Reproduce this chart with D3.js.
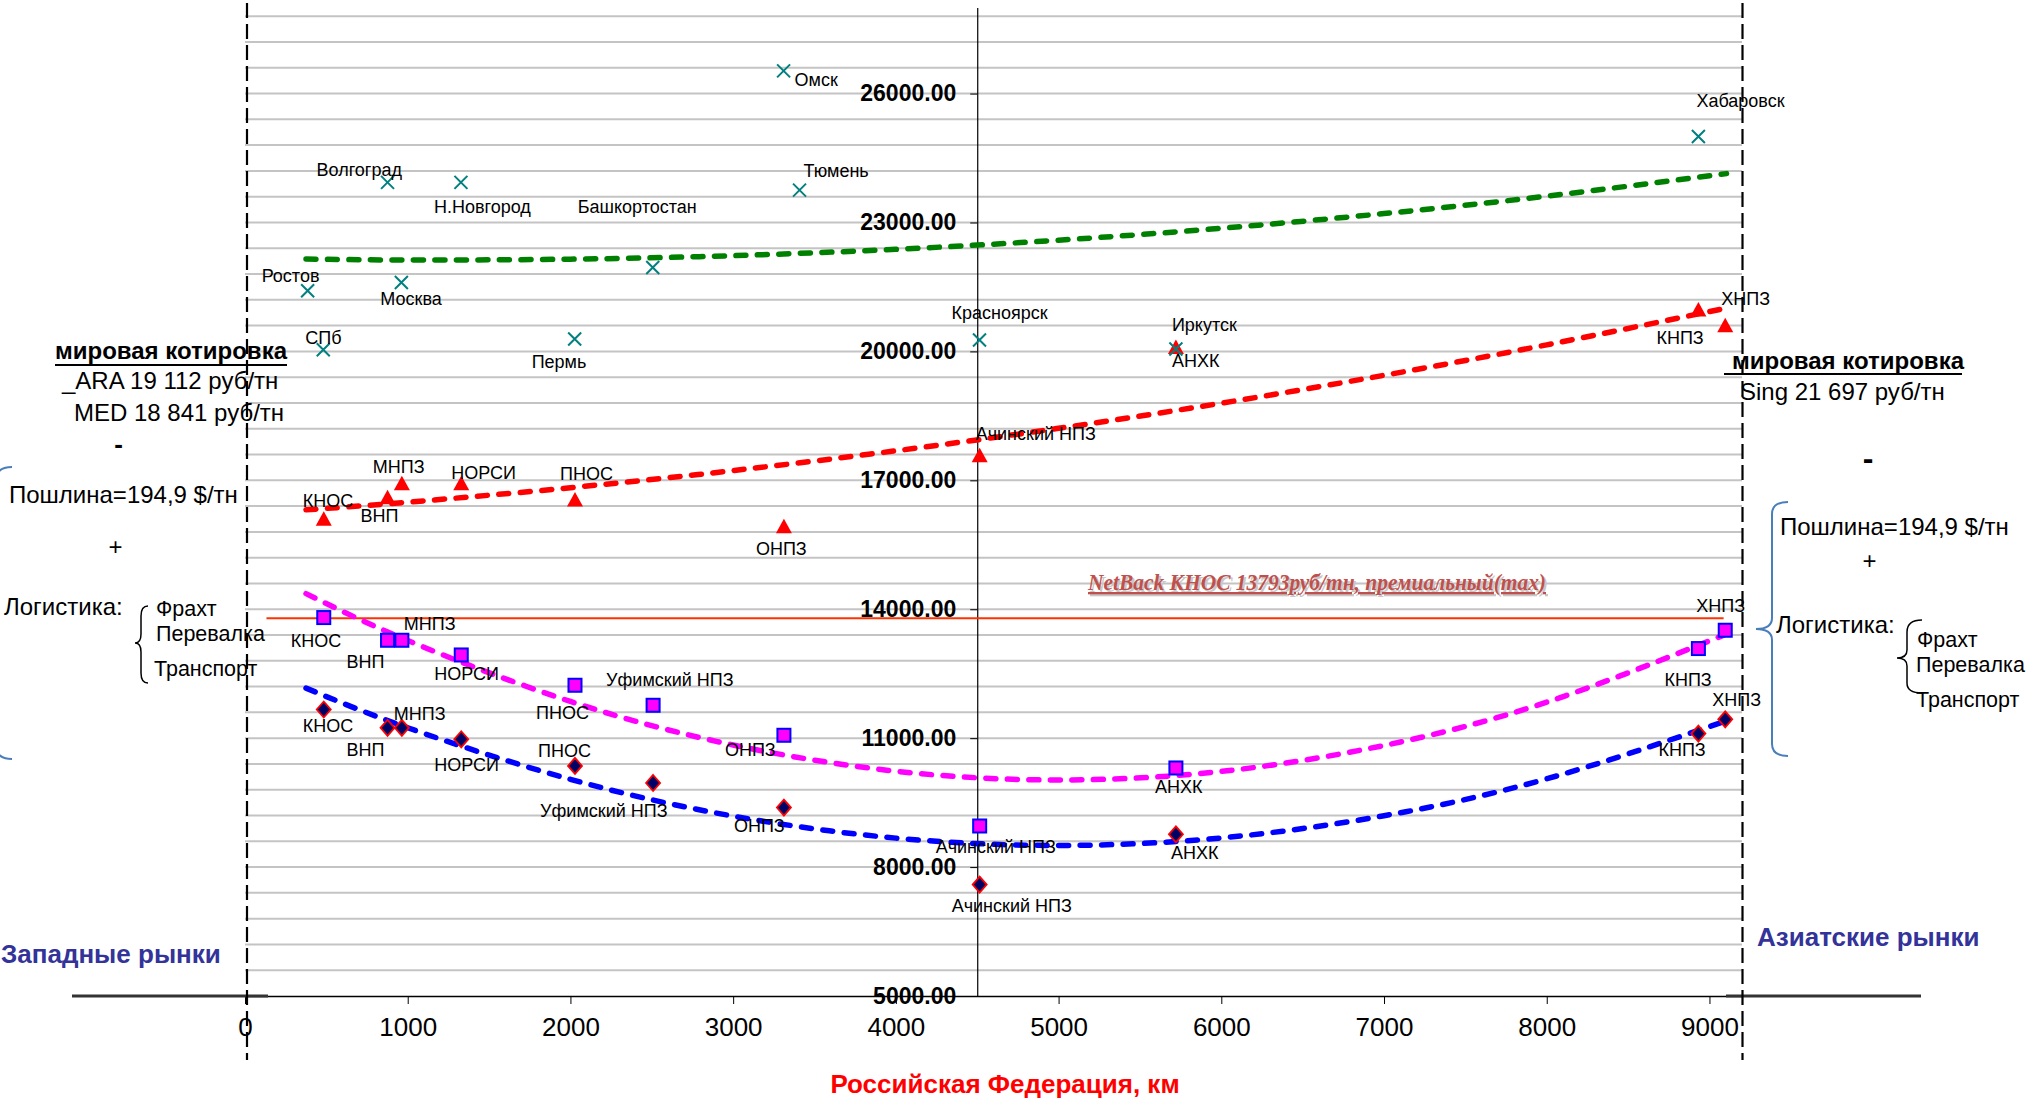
<!DOCTYPE html>
<html><head><meta charset="utf-8">
<script src="https://cdn.jsdelivr.net/npm/d3@7"></script>
<style>
body{margin:0;background:#fff}
svg{display:block}
text{font-family:"Liberation Sans",Arial,sans-serif}
text.serif{font-family:"Liberation Serif","Times New Roman",serif}
</style>
</head><body>
<svg id="c" width="2028" height="1104"></svg>
<script>
// ---------------- data ----------------
const xTicks = [0, 1000, 2000, 3000, 4000, 5000, 6000, 7000, 8000, 9000];
const yTicks = [5000, 8000, 11000, 14000, 17000, 20000, 23000, 26000];

// cities (teal crosses)
const cityNames = ["Ростов", "СПб", "Волгоград", "Москва", "Н.Новгород", "Пермь", "Башкортостан", "Омск", "Тюмень", "Красноярск", "Иркутск", "Хабаровск"];
const cityKm    = [385, 481, 876, 961, 1327, 2026, 2506, 3310, 3408, 4514, 5721, 8932];
const cityPrice = [21412, 20040, 23933, 21605, 23933, 20288, 21953, 26528, 23753, 20265, 20056, 25000];

// refineries (red triangles)
const refNames = ["КНОС", "ВНП", "МНПЗ", "НОРСИ", "ПНОС", "ОНПЗ", "Ачинский НПЗ", "АНХК", "КНПЗ", "ХНПЗ"];
const refKm    = [484, 876, 964, 1329, 2028, 3312, 4515, 5721, 8932, 9097];
const refPrice = [16105, 16606, 16932, 16932, 16552, 15931, 17583, 20104, 20974, 20608];

// netback premium (magenta squares)
const premNames = ["КНОС", "ВНП", "МНПЗ", "НОРСИ", "ПНОС", "Уфимский НПЗ", "ОНПЗ", "Ачинский НПЗ", "АНХК", "КНПЗ", "ХНПЗ"];
const premKm    = [484, 876, 964, 1329, 2028, 2508, 3312, 4515, 5721, 8932, 9097];
const premValue = [13806, 13278, 13278, 12936, 12231, 11765, 11067, 8956, 10306, 13085, 13511];

// netback (navy diamonds)
const netNames = ["КНОС", "ВНП", "МНПЗ", "НОРСИ", "ПНОС", "Уфимский НПЗ", "ОНПЗ", "Ачинский НПЗ", "АНХК", "КНПЗ", "ХНПЗ"];
const netKm    = [484, 876, 964, 1329, 2028, 2508, 3312, 4515, 5721, 8932, 9097];
const netValue = [11667, 11241, 11241, 10974, 10353, 9957, 9384, 7593, 8763, 11107, 11439];

// trend lines
const trendKm      = [375, 1000, 2000, 3000, 4000, 5000, 6000, 7000, 8000, 9105];
const trendCity    = [22149, 22127, 22146, 22228, 22376, 22588, 22865, 23207, 23613, 24137];
const trendRef     = [16313, 16491, 16828, 17226, 17687, 18210, 18795, 19443, 20152, 21009];
const trendPrem    = [14364, 13273, 11854, 10841, 10231, 10027, 10226, 10830, 11838, 13423];
const trendNet     = [12165, 11242, 10042, 9186, 8674, 8504, 8678, 9194, 10054, 11404];

// NetBack КНОС max level
const netbackLevel = 13793;
const netbackKm = [132, 9087];

// ---------------- layout (label offsets in px) ----------------
const cityLab = [[-46,-9],[-18,-6],[-71,-6],[-21,23],[-27,31],[-43,29],[-75,-54],[11,15],[4,-13],[-28,-21],[-4,-18],[-2,-30]];
const refLab  = [[-21,-12],[-27,25],[-29,-10],[-10,-4],[-15,-20],[-28,29],[-4,-15],[-4,20],[-42,34],[-4,-20]];
const premLab = [[-33,29],[-41,28],[2,-10],[-27,25],[-39,34],[-47,-19],[-59,21],[-44,27],[-21,25],[-34,37],[-29,-18]];
const netLab  = [[-21,23],[-41,28],[-8,-8],[-27,32],[-37,-9],[-113,34],[-50,24],[-28,27],[-5,25],[-40,22],[-13,-13]];

// ---------------- scales ----------------
const svg = d3.select("#c");
svg.append("rect").attr("width", 2028).attr("height", 1104).attr("fill", "#fff");
const x = d3.scaleLinear().domain([0, 9200]).range([245, 1742]);
const y = d3.scaleLinear().domain([5000, 28000]).range([996, 7.6]);

// grid lines every 600
const grid = svg.append("g");
grid.selectAll("line").data(d3.range(5600, 28000, 600)).join("line")
  .attr("x1", x(0)).attr("x2", x(9200))
  .attr("y1", d => y(d)).attr("y2", d => y(d))
  .attr("stroke", "#c4c4c4").attr("stroke-width", 2);

// x axis
const xAxis = d3.axisBottom(x).tickValues(xTicks).tickFormat(d => d).tickSize(8).tickSizeOuter(0).tickPadding(14);
const gx = svg.append("g").attr("transform", `translate(0,${y(5000)})`).call(xAxis);
gx.select(".domain").attr("stroke", "#000").attr("stroke-width", 1.6);
gx.selectAll(".tick line").attr("stroke", "#000").attr("stroke-width", 1);
gx.selectAll("text").attr("font-size", 26).attr("fill", "#000");

// extra axis extensions
svg.append("line").attr("x1", 72).attr("x2", 268).attr("y1", y(5000)).attr("y2", y(5000)).attr("stroke", "#333").attr("stroke-width", 3);
svg.append("line").attr("x1", 1726).attr("x2", 1921).attr("y1", y(5000)).attr("y2", y(5000)).attr("stroke", "#333").attr("stroke-width", 3);

// y axis at 4500 km
const yAxis = d3.axisLeft(y).tickValues(yTicks).tickFormat(d => d.toFixed(2)).tickSize(7).tickSizeOuter(0).tickPadding(14);
const gy = svg.append("g").attr("transform", `translate(${x(4500)},0)`).call(yAxis);
gy.select(".domain").attr("stroke", "#000").attr("stroke-width", 1.2);
gy.selectAll(".tick line").attr("stroke", "#000");
gy.selectAll("text").attr("font-size", 23).attr("font-weight", "bold").attr("fill", "#000");

// vertical dashed boundaries
[x(0) + 2, x(9200) + 0.5].forEach(xx => {
  svg.append("line").attr("x1", xx).attr("x2", xx).attr("y1", 3).attr("y2", 1060)
    .attr("stroke", "#000").attr("stroke-width", 2.2).attr("stroke-dasharray", "15 6");
});

// netback level line
svg.append("line").attr("x1", x(netbackKm[0])).attr("x2", x(netbackKm[1]))
  .attr("y1", y(netbackLevel)).attr("y2", y(netbackLevel))
  .attr("stroke", "#ff3300").attr("stroke-width", 2);

// trend lines
const line = d3.line().x(d => x(d[0])).y(d => y(d[1])).curve(d3.curveNatural);
[[trendCity, "#008000"], [trendRef, "#ff0000"], [trendPrem, "#ff00ff"], [trendNet, "#0000ff"]].forEach(([vals, col]) => {
  svg.append("path").datum(trendKm.map((k, i) => [k, vals[i]])).attr("d", line)
    .attr("fill", "none").attr("stroke", col).attr("stroke-width", 5.5)
    .attr("stroke-dasharray", "10 11.5").attr("stroke-linecap", "round");
});

// markers
const mk = svg.append("g");
refKm.forEach((k, i) => {
  mk.append("path").attr("transform", `translate(${x(k)},${y(refPrice[i])})`)
    .attr("d", "M0,-7.5L8,7L-8,7Z").attr("fill", "#ff0000");
});
cityKm.forEach((k, i) => {
  mk.append("path").attr("transform", `translate(${x(k)},${y(cityPrice[i])})`)
    .attr("d", "M-6.5,-6.5L6.5,6.5M-6.5,6.5L6.5,-6.5").attr("stroke", "#008080").attr("stroke-width", 2).attr("fill", "none");
});
premKm.forEach((k, i) => {
  mk.append("rect").attr("x", x(k) - 6.5).attr("y", y(premValue[i]) - 6.5).attr("width", 13).attr("height", 13)
    .attr("fill", "#ff00ff").attr("stroke", "#0000ff").attr("stroke-width", 2);
});
netKm.forEach((k, i) => {
  mk.append("path").attr("transform", `translate(${x(k)},${y(netValue[i])})`)
    .attr("d", "M0,-8L7,0L0,8L-7,0Z").attr("fill", "#000066").attr("stroke", "#ff0000").attr("stroke-width", 1.8);
});

// point labels
const lab = svg.append("g").attr("font-size", 18).attr("fill", "#000");
function labels(names, kms, vals, offs) {
  names.forEach((n, i) => {
    lab.append("text").attr("x", x(kms[i]) + offs[i][0]).attr("y", y(vals[i]) + offs[i][1]).text(n);
  });
}
labels(cityNames, cityKm, cityPrice, cityLab);
labels(refNames, refKm, refPrice, refLab);
labels(premNames, premKm, premValue, premLab);
labels(netNames, netKm, netValue, netLab);

// NetBack annotation
const nbText = "NetBack КНОС 13793руб/тн, премиальный(max)";
svg.append("text").attr("class", "serif").attr("x", 1090).attr("y", 592).text(nbText)
  .attr("font-style", "italic").attr("font-weight", "bold")
  .attr("font-size", 23).attr("fill", "#c8c8c8").attr("text-decoration", "underline")
  .attr("textLength", 458).attr("lengthAdjust", "spacingAndGlyphs");
svg.append("text").attr("class", "serif").attr("x", 1088).attr("y", 590).text(nbText)
  .attr("font-style", "italic").attr("font-weight", "bold")
  .attr("font-size", 23).attr("fill", "#c0504d").attr("text-decoration", "underline")
  .attr("textLength", 458).attr("lengthAdjust", "spacingAndGlyphs");

// side annotations
const ann = svg.append("g").attr("fill", "#000");
function t(txt, xx, yy, size, weight, anchor) {
  return ann.append("text").attr("x", xx).attr("y", yy).attr("font-size", size)
    .attr("font-weight", weight || "normal").attr("text-anchor", anchor || "start").text(txt);
}
// left block
t("мировая котировка", 55, 359, 24, "bold");
ann.append("line").attr("x1", 55).attr("x2", 287).attr("y1", 365).attr("y2", 365).attr("stroke", "#000").attr("stroke-width", 2);
t("_ARA 19 112 руб/тн", 62, 389, 24);
t("MED 18 841 руб/тн", 74, 421, 24);
t("-", 118.5, 453, 26, "bold", "middle");
t("Пошлина=194,9 $/тн", 9, 503, 24);
t("+", 115.5, 555, 24, "normal", "middle");
t("Логистика:", 4, 615, 24);
t("Фрахт", 156, 616, 21.5);
t("Перевалка", 156, 641, 21.5);
t("Транспорт", 154, 676, 21.5);
ann.append("path").attr("d", "M148,606 Q141,606 141,616 L141,634 Q141,643 135,643 Q141,643 141,652 L141,673 Q141,683 148,683")
  .attr("fill", "none").attr("stroke", "#000").attr("stroke-width", 1.5);
ann.append("path").attr("d", "M-4,480 Q-4,467 12,467 M-4,746 Q-4,759 12,759")
  .attr("fill", "none").attr("stroke", "#4a7ebb").attr("stroke-width", 2);
t("Западные рынки", 1, 963, 26, "bold", "start").attr("fill", "#333399");

// right block
t("мировая котировка", 1732, 369, 24, "bold");
ann.append("line").attr("x1", 1724).attr("x2", 1962).attr("y1", 374).attr("y2", 374).attr("stroke", "#000").attr("stroke-width", 2);
t("Sing 21 697 руб/тн", 1740, 400, 24);
t("-", 1868, 469, 32, "bold", "middle");
ann.append("path").attr("d", "M1788,502 Q1772,502 1772,514 L1772,618 Q1772,629 1756,629 Q1772,629 1772,640 L1772,744 Q1772,756 1788,756")
  .attr("fill", "none").attr("stroke", "#4a7ebb").attr("stroke-width", 2);
t("Пошлина=194,9 $/тн", 1780, 535, 24);
t("+", 1869.5, 569, 24, "normal", "middle");
t("Логистика:", 1776, 633, 24);
ann.append("path").attr("d", "M1922,620 Q1907,620 1907,632 L1907,650 Q1907,658 1897,658 Q1907,658 1907,666 L1907,683 Q1907,693 1922,693")
  .attr("fill", "none").attr("stroke", "#000").attr("stroke-width", 1.5);
t("Фрахт", 1917, 647, 21.5);
t("Перевалка", 1916, 672, 21.5);
t("Транспорт", 1916, 707, 21.5);
t("Азиатские рынки", 1757, 946, 26, "bold").attr("fill", "#333399");

// x axis title
svg.append("text").attr("x", 1005).attr("y", 1093).attr("text-anchor", "middle")
  .attr("font-size", 26).attr("font-weight", "bold").attr("fill", "#ff0000").text("Российская Федерация, км");
</script>
</body></html>
